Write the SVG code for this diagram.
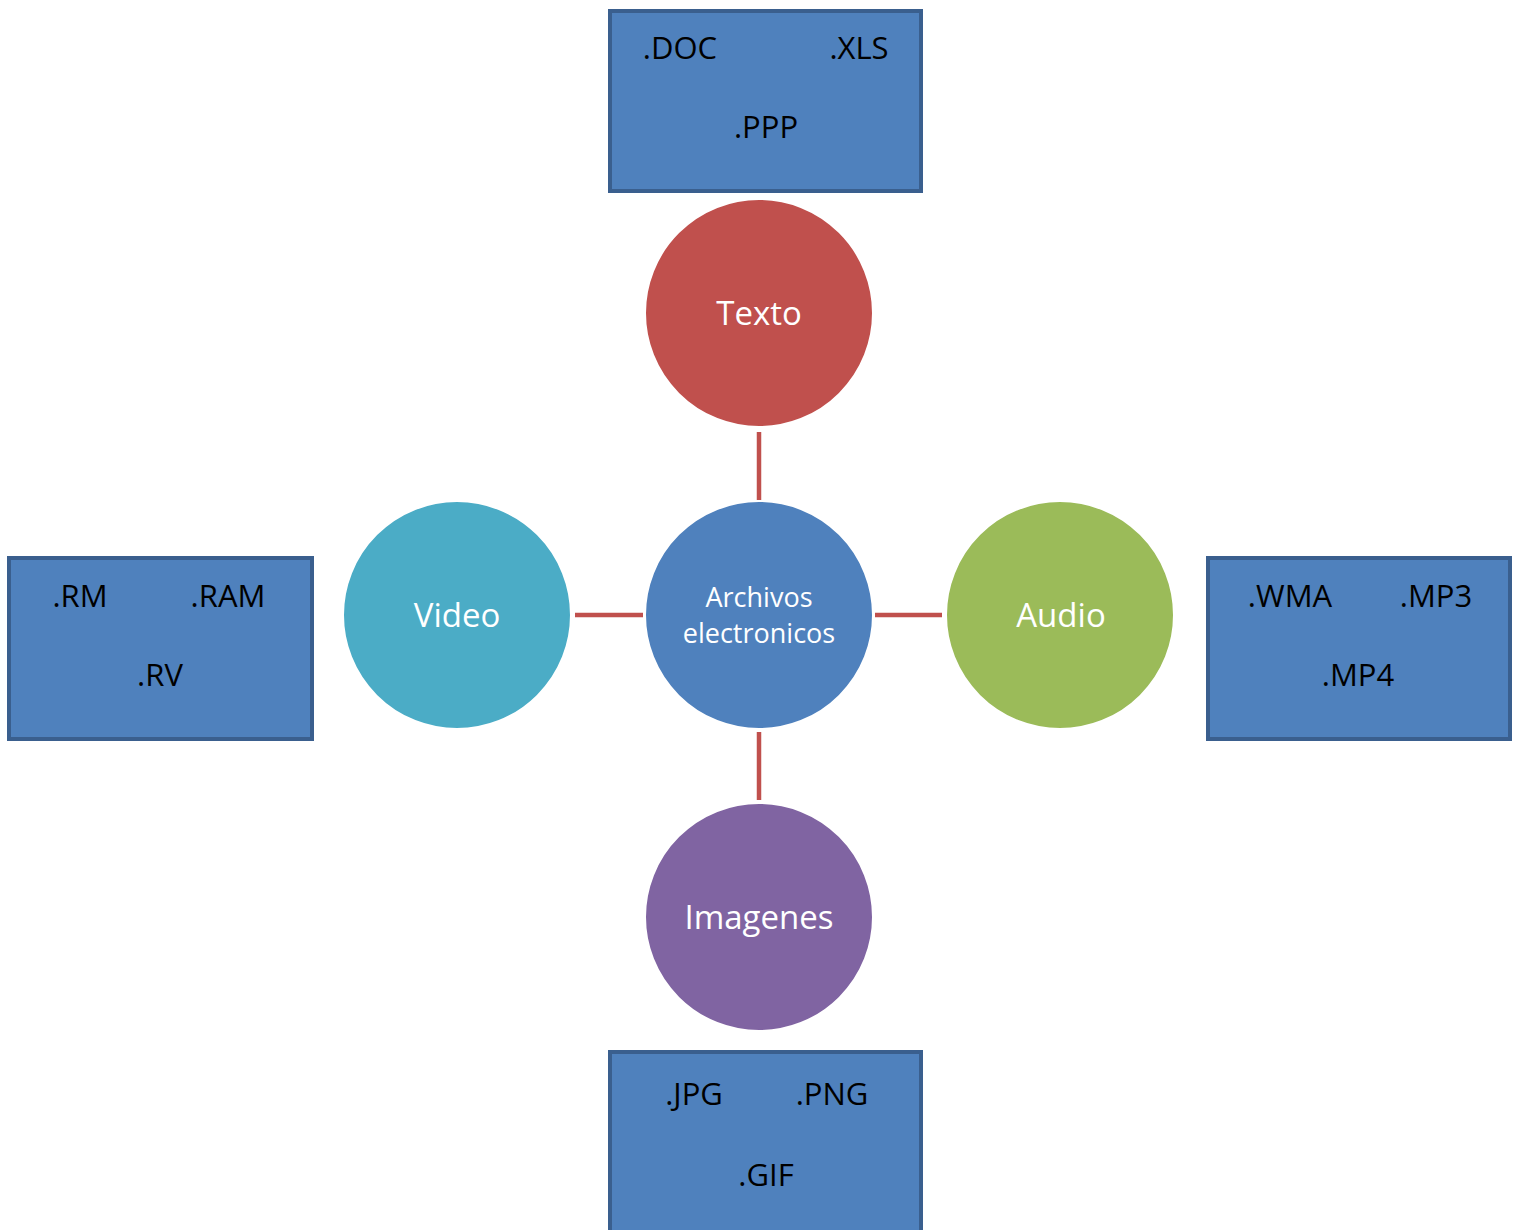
<svg xmlns="http://www.w3.org/2000/svg" width="1518" height="1230" viewBox="0 0 1518 1230">
<style>
.box{fill:#4f81bd;stroke:#3a5f8e;stroke-width:4}
.bt{font-family:"Open Sans","Liberation Sans",sans-serif;font-size:31px;fill:#000;text-anchor:middle}
.circ{stroke:#fff;stroke-width:2}
.ct{font-family:"Open Sans","Liberation Sans",sans-serif;font-size:33px;fill:#fff;text-anchor:middle}
.cts{font-family:"Open Sans","Liberation Sans",sans-serif;font-size:27px;fill:#fff;text-anchor:middle}
.conn line{stroke:#c0504d;stroke-width:4.5}
</style>
<rect width="1518" height="1230" fill="#fff"/>
<g class="conn" id="connectors">
<line x1="759" y1="432" x2="759" y2="500"/>
<line x1="759" y1="732" x2="759" y2="800"/>
<line x1="575" y1="615" x2="643" y2="615"/>
<line x1="875" y1="615" x2="942" y2="615"/>
</g>
<g id="center">
<circle class="circ" cx="759" cy="615" r="114" fill="#4f81bd"/>
<text class="cts" x="759" y="607">Archivos</text>
<text class="cts" x="759" y="643">electronicos</text>
</g>
<g id="texto">
<circle class="circ" cx="759" cy="313" r="114" fill="#c0504d"/>
<text class="ct" x="759" y="325">Texto</text>
</g>
<g id="video">
<circle class="circ" cx="457" cy="615" r="114" fill="#4bacc6"/>
<text class="ct" x="457" y="627">Video</text>
</g>
<g id="audio">
<circle class="circ" cx="1060" cy="615" r="114" fill="#9bbb59"/>
<text class="ct" x="1061" y="627">Audio</text>
</g>
<g id="imagenes">
<circle class="circ" cx="759" cy="917" r="114" fill="#8064a2"/>
<text class="ct" x="759" y="929">Imagenes</text>
</g>
<g id="box-texto">
<rect class="box" x="610" y="11" width="311" height="180"/>
<text class="bt" x="680" y="59">.DOC</text>
<text class="bt" x="859" y="59">.XLS</text>
<text class="bt" x="766" y="138">.PPP</text>
</g>
<g id="box-video">
<rect class="box" x="9" y="558" width="303" height="181"/>
<text class="bt" x="80" y="607">.RM</text>
<text class="bt" x="228" y="607">.RAM</text>
<text class="bt" x="160" y="686">.RV</text>
</g>
<g id="box-audio">
<rect class="box" x="1208" y="558" width="302" height="181"/>
<text class="bt" x="1290" y="607">.WMA</text>
<text class="bt" x="1436" y="607">.MP3</text>
<text class="bt" x="1358" y="686">.MP4</text>
</g>
<g id="box-imagenes">
<rect class="box" x="610" y="1052" width="311" height="182"/>
<text class="bt" x="694" y="1105">.JPG</text>
<text class="bt" x="832" y="1105">.PNG</text>
<text class="bt" x="766" y="1186">.GIF</text>
</g>
</svg>
